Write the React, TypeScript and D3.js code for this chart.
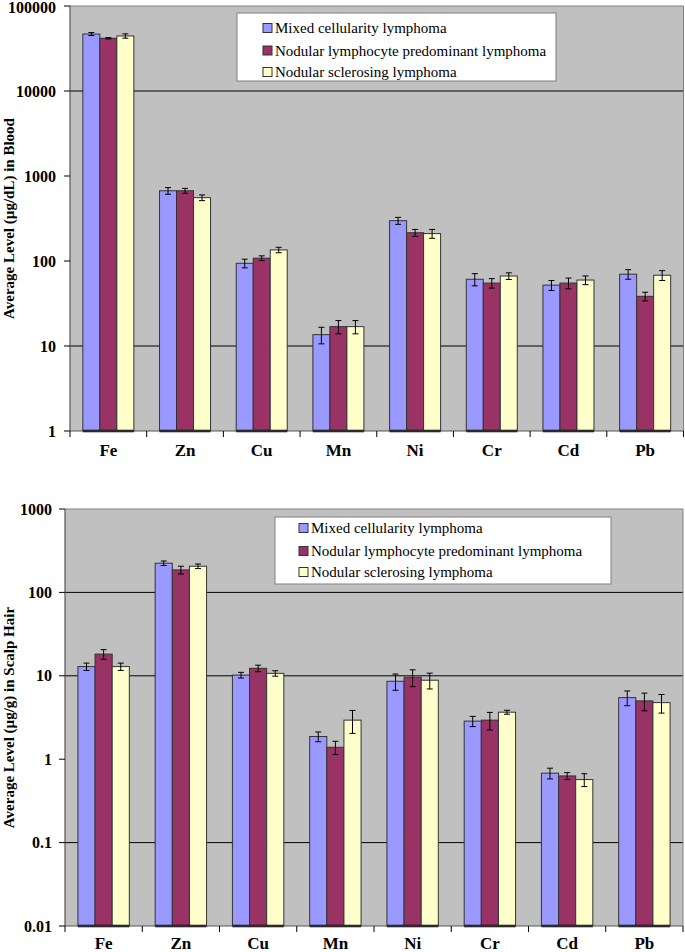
import React, { useEffect } from "react";
import * as d3 from "d3";

const categories = ["Fe", "Zn", "Cu", "Mn", "Ni", "Cr", "Cd", "Pb"];
const seriesNames = [
  "Mixed cellularity lymphoma",
  "Nodular lymphocyte predominant lymphoma",
  "Nodular sclerosing lymphoma",
];
const seriesColors = ["#9999FF", "#993366", "#FFFFCC"];

// Blood (µg/dL)
const bloodMixed = [46800, 670, 94, 13.6, 298, 61, 52, 70];
const bloodMixedErr = [1900, 60, 11, 3, 28, 10, 7, 9];
const bloodNodLP = [41700, 670, 108, 16.9, 215, 55, 55, 38.4];
const bloodNodLPErr = [700, 45, 7, 3, 20, 7, 8, 4.5];
const bloodNodScl = [44400, 556, 135, 16.9, 210, 66.6, 59.7, 68];
const bloodNodSclErr = [2600, 43, 10, 3, 25, 6, 7, 9];
const bloodTicks = [1, 10, 100, 1000, 10000, 100000];
const bloodTickLabels = ["1", "10", "100", "1000", "10000", "100000"];
const bloodGrid = [10, 10000];

// Scalp hair (µg/g)
const hairMixed = [12.9, 224, 10.2, 1.87, 8.6, 2.86, 0.68, 5.48];
const hairMixedErr = [1.3, 14, 0.8, 0.25, 1.9, 0.4, 0.1, 1.1];
const hairNodLP = [18.2, 186, 12.3, 1.39, 9.6, 2.94, 0.63, 5.0];
const hairNodLPErr = [2.4, 20, 1.1, 0.25, 2.2, 0.7, 0.06, 1.2];
const hairNodScl = [12.9, 206, 10.7, 2.94, 8.85, 3.66, 0.57, 4.77];
const hairNodSclErr = [1.3, 13, 0.8, 0.9, 1.9, 0.2, 0.1, 1.2];
const hairTicks = [0.01, 0.1, 1, 10, 100, 1000];
const hairTickLabels = ["0.01", "0.1", "1", "10", "100", "1000"];
const hairGrid = [0.1, 10, 100];

const FONT = "'Liberation Serif', 'Times New Roman', serif";

type PanelProps = {
  left: number;
  right: number;
  top: number;
  bottom: number;
  domain: [number, number];
  ticks: number[];
  tickLabels: string[];
  grid: number[];
  values: number[][];
  errors: number[][];
  yTitle: string;
  tickLabelRight: number;
  catLabelY: number;
  legend: { x: number; y: number; w: number; h: number; swatchX: number; rowY: number[] };
};

function Panel(p: PanelProps) {
  const y = d3.scaleLog().domain(p.domain).range([p.bottom, p.top]);
  const x0 = d3.scaleBand<string>().domain(categories).range([p.left, p.right]).paddingInner(0).paddingOuter(0);
  const x1 = d3
    .scaleBand<string>()
    .domain(seriesNames)
    .range([0, x0.bandwidth()])
    .paddingInner(0)
    .paddingOuter(0.755);
  const bw = x1.bandwidth();
  const catEdges = categories.map((c) => x0(c)!).concat([p.right]);
  return (
    <g>
      <rect x={p.left} y={p.top} width={p.right - p.left} height={p.bottom - p.top} fill="#C0C0C0" />
      {p.grid.map((g, i) => (
        <line key={"g" + i} x1={p.left} x2={p.right} y1={y(g)} y2={y(g)} stroke="#000" strokeWidth={1} />
      ))}
      <line x1={p.left} x2={p.right} y1={p.top} y2={p.top} stroke="#808080" strokeWidth={1} />
      <line x1={p.right} x2={p.right} y1={p.top} y2={p.bottom} stroke="#808080" strokeWidth={1} />
      {categories.map((c, ci) => (
        <g key={c}>
          {seriesNames.map((s, si) => {
            const v = p.values[si][ci];
            const bx = x0(c)! + x1(s)!;
            const by = y(v);
            return (
              <rect
                key={s}
                x={bx}
                y={by}
                width={bw}
                height={p.bottom - by}
                fill={seriesColors[si]}
                stroke="#333"
                strokeWidth={1}
              />
            );
          })}
          <line
            x1={x0(c)! + x1(seriesNames[0])!}
            x2={x0(c)! + x1(seriesNames[2])! + bw}
            y1={p.bottom}
            y2={p.bottom}
            stroke="#000"
            strokeWidth={2.5}
          />
          {seriesNames.map((s, si) => {
            const v = p.values[si][ci];
            const e = p.errors[si][ci];
            const cx = x0(c)! + x1(s)! + bw / 2;
            const yHi = y(v + e);
            const yLo = y(Math.max(v - e, p.domain[0]));
            return (
              <g key={"e" + s} stroke="#000" strokeWidth={1}>
                <line x1={cx} x2={cx} y1={yHi} y2={yLo} />
                <line x1={cx - 3} x2={cx + 3} y1={yHi} y2={yHi} />
                <line x1={cx - 3} x2={cx + 3} y1={yLo} y2={yLo} />
              </g>
            );
          })}
          <text
            x={x0(c)! + x0.bandwidth() / 2}
            y={p.catLabelY}
            textAnchor="middle"
            fontFamily={FONT}
            fontWeight="bold"
            fontSize={17}
            fill="#000"
          >
            {c}
          </text>
        </g>
      ))}
      {/* axes */}
      <line x1={p.left} x2={p.left} y1={p.top} y2={p.bottom} stroke="#555" strokeWidth={1.2} />
      <line x1={p.left} x2={p.right} y1={p.bottom} y2={p.bottom} stroke="#555" strokeWidth={1} />
      {p.ticks.map((t, i) => (
        <g key={"t" + i}>
          <line x1={p.left - 6} x2={p.left} y1={y(t)} y2={y(t)} stroke="#000" strokeWidth={1} />
          <text
            x={p.tickLabelRight}
            y={Math.max(y(t), 7)}
            dy="0.35em"
            textAnchor="end"
            fontFamily={FONT}
            fontWeight="bold"
            fontSize={16}
            fill="#000"
          >
            {p.tickLabels[i]}
          </text>
        </g>
      ))}
      {catEdges.map((xe, i) => (
        <line key={"xt" + i} x1={xe} x2={xe} y1={p.bottom} y2={p.bottom + 6} stroke="#000" strokeWidth={1} />
      ))}
      <text
        transform={`translate(14,${(p.top + p.bottom) / 2}) rotate(-90)`}
        textAnchor="middle"
        fontFamily={FONT}
        fontWeight="bold"
        fontSize={15}
        fill="#000"
      >
        {p.yTitle}
      </text>
      {/* legend */}
      <rect x={p.legend.x} y={p.legend.y} width={p.legend.w} height={p.legend.h} fill="#fff" stroke="#808080" strokeWidth={1} />
      {seriesNames.map((s, si) => (
        <g key={"l" + s}>
          <rect
            x={p.legend.swatchX}
            y={p.legend.rowY[si] - 4.5}
            width={9}
            height={9}
            fill={seriesColors[si]}
            stroke="#333"
            strokeWidth={1}
          />
          <text
            x={p.legend.swatchX + 12}
            y={p.legend.rowY[si]}
            dy="0.35em"
            fontFamily={FONT}
            fontSize={15}
            fill="#000"
          >
            {s}
          </text>
        </g>
      ))}
    </g>
  );
}

export default function App() {
  useEffect(() => {
    document.body.style.margin = "0";
    document.body.style.overflow = "hidden";
  }, []);
  return (
    <svg
      width={685}
      height={952}
      style={{ position: "absolute", left: 0, top: 0, background: "#fff" }}
    >
      <Panel
        left={70}
        right={683.5}
        top={6}
        bottom={431}
        domain={[1, 100000]}
        ticks={bloodTicks}
        tickLabels={bloodTickLabels}
        grid={bloodGrid}
        values={[bloodMixed, bloodNodLP, bloodNodScl]}
        errors={[bloodMixedErr, bloodNodLPErr, bloodNodSclErr]}
        yTitle="Average Level (µg/dL) in Blood"
        tickLabelRight={56}
        catLabelY={456}
        legend={{ x: 237, y: 13, w: 319, h: 68, swatchX: 263, rowY: [28, 50.5, 72] }}
      />
      <Panel
        left={65}
        right={683}
        top={509}
        bottom={926}
        domain={[0.01, 1000]}
        ticks={hairTicks}
        tickLabels={hairTickLabels}
        grid={hairGrid}
        values={[hairMixed, hairNodLP, hairNodScl]}
        errors={[hairMixedErr, hairNodLPErr, hairNodSclErr]}
        yTitle="Average Level (µg/g) in Scalp Hair"
        tickLabelRight={52}
        catLabelY={949}
        legend={{ x: 275, y: 517, w: 336, h: 67, swatchX: 299, rowY: [528, 551, 572] }}
      />
    </svg>
  );
}
